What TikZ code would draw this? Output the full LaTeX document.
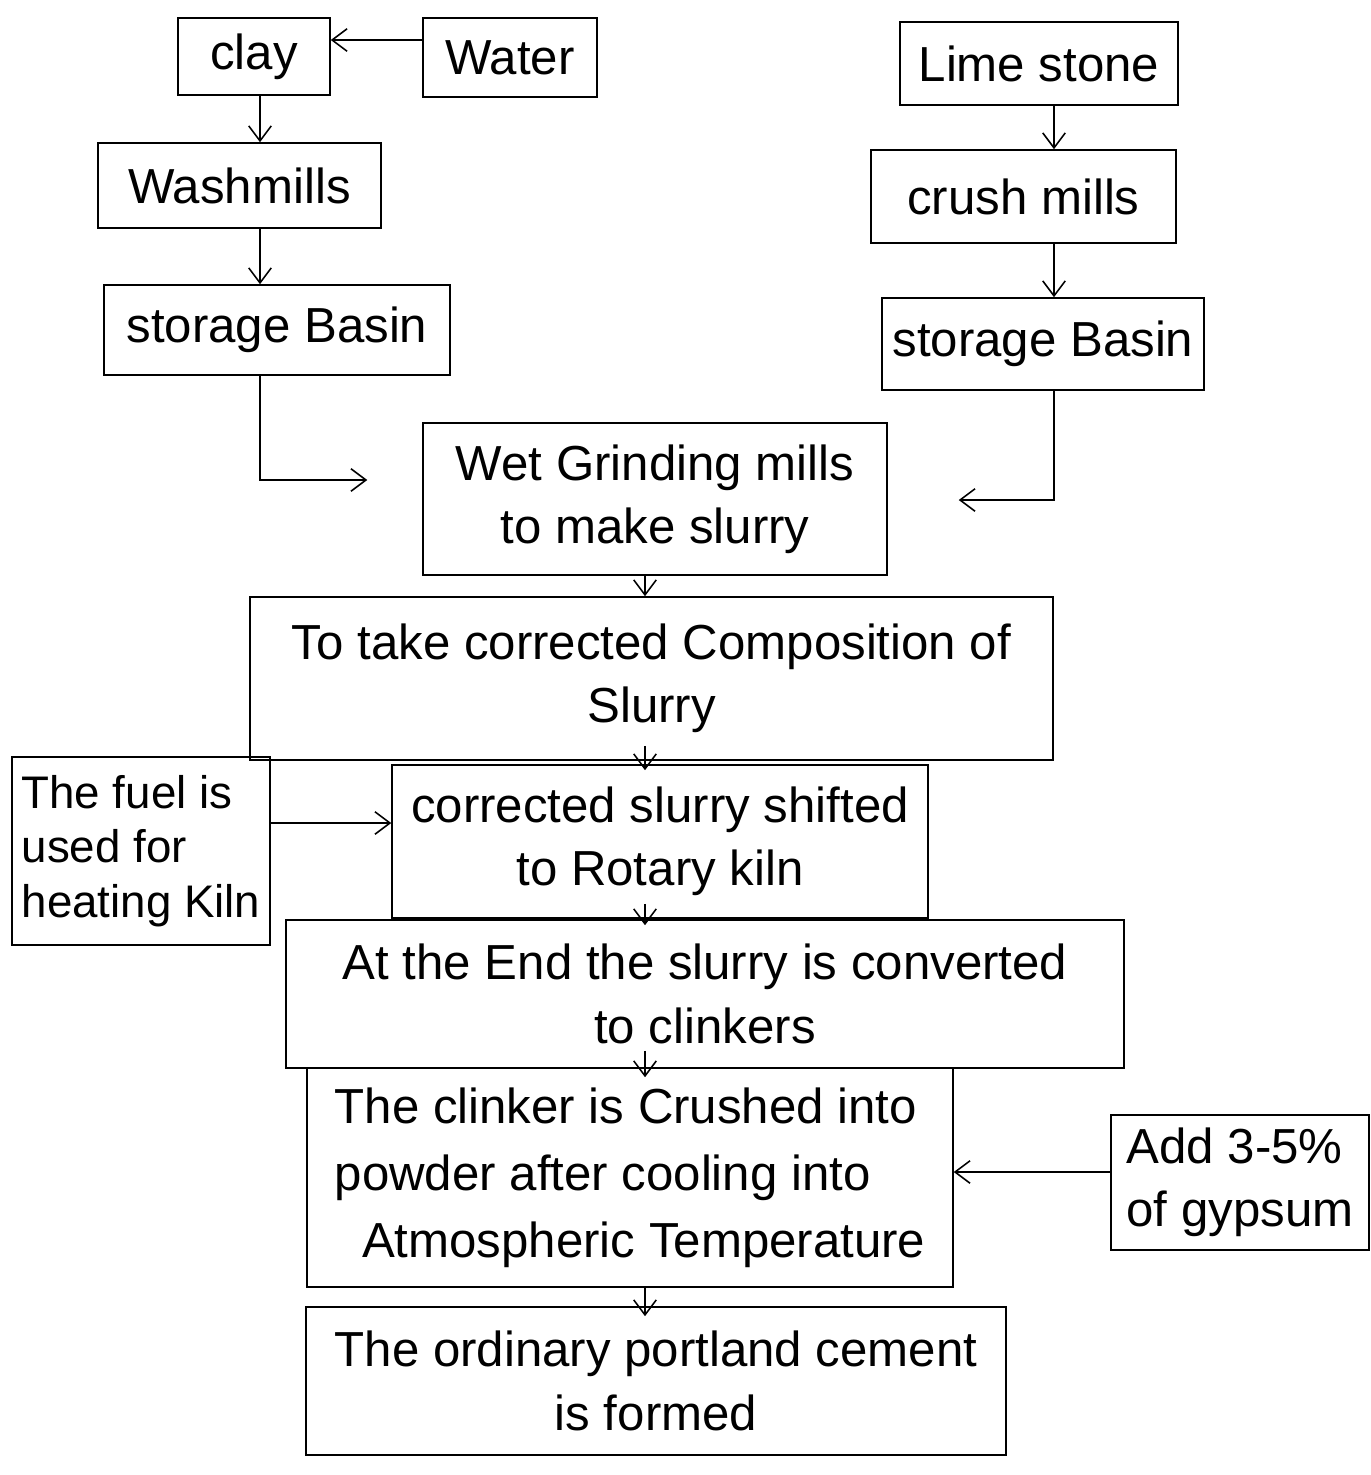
\documentclass[tikz,border=0pt]{standalone}
\usepackage{fontspec}
\setmainfont{Liberation Sans}
\usetikzlibrary{arrows.meta}
\begin{document}
\begin{tikzpicture}[x=0.02cm,y=-0.02cm,
  box/.style={draw, line width=0.9pt, inner sep=4pt, font=\fontsize{28}{36}\selectfont, align=center},
  arr/.style={line width=0.9pt, -{Straight Barb[length=0.3cm,width=0.45cm]}}]
\fill[white] (0,0) rectangle (1371,1475);
\useasboundingbox (0,0) rectangle (1371,1475);

% helper coordinates
\coordinate (xL) at (260,0);
\coordinate (xR) at (1054,0);
\coordinate (xC) at (645,0);
\coordinate (yW) at (0,40);
\coordinate (yL) at (0,480);
\coordinate (yR) at (0,500);
\coordinate (yF) at (0,823);
\coordinate (yG) at (0,1172);

% nodes
\node[box, minimum width=3.04cm, minimum height=1.54cm] (clay) at (254,56.5) {clay};
\node[box, minimum width=3.48cm, minimum height=1.58cm] (water) at (510,57.5) {Water};
\node[box, minimum width=5.56cm, minimum height=1.66cm] (lime) at (1039,63.5) {Lime stone};
\node[box, minimum width=5.66cm, minimum height=1.7cm] (wash) at (239.5,185.5) {Washmills};
\node[box, minimum width=6.1cm, minimum height=1.86cm] (crush) at (1023.5,196.5) {crush mills};
\node[box, minimum width=6.92cm, minimum height=1.8cm] (storL) at (277,330) {storage Basin};
\node[box, minimum width=6.44cm, minimum height=1.84cm] (storR) at (1043,344) {storage Basin};
\node[box, minimum width=9.28cm, minimum height=3.04cm] (wet) at (655,499)
  {Wet Grinding mills\\to make slurry};
\node[box, minimum width=16.06cm, minimum height=3.26cm] (comp) at (651.5,678.5)
  {To take corrected Composition of\\Slurry};
\node[box, minimum width=5.16cm, minimum height=3.76cm, align=left, inner sep=2pt,
  font=\fontsize{26}{31}\selectfont] (fuel) at (141,851)
  {The fuel is\\used for\\heating Kiln};
\node[box, minimum width=10.72cm, minimum height=3.06cm] (rotary) at (660,841.5)
  {corrected slurry shifted\\to Rotary kiln};
\node[box, minimum width=16.76cm, minimum height=2.96cm] (endc) at (705,994)
  {At the End the slurry is converted\\to clinkers};
\node[box, minimum width=12.92cm, minimum height=4.38cm, align=left,
  font=\fontsize{28}{38}\selectfont] (clinker) at (630,1177.5)
  {The clinker is Crushed into\\powder after cooling into\\\ \ Atmospheric Temperature};
\node[box, minimum width=5.16cm, minimum height=2.7cm, align=left] (gyp) at (1240,1182.5)
  {Add 3-5\%\\of gypsum};
\node[box, minimum width=14.0cm, minimum height=2.96cm] (ord) at (656,1381)
  {The ordinary portland cement\\is formed};

% connectors
\draw[arr] (water.west |- yW) -- (clay.east |- yW);
\draw[arr] (clay.south -| xL) -- (wash.north -| xL);
\draw[arr] (wash.south -| xL) -- (storL.north -| xL);
\draw[arr] (lime.south -| xR) -- (crush.north -| xR);
\draw[arr] (crush.south -| xR) -- (storR.north -| xR);
\draw[arr, shorten >=1.1cm] (storL.south -| xL) |- (wet.west |- yL);
\draw[arr, shorten >=1.42cm] (storR.south -| xR) |- (wet.east |- yR);
\draw[arr] (wet.south -| xC) -- (comp.north -| xC);
\draw[arr] ([yshift=0.3cm]comp.south -| xC) -- ([yshift=-0.12cm]rotary.north -| xC);
\draw[arr] ([yshift=0.3cm]rotary.south -| xC) -- ([yshift=-0.12cm]endc.north -| xC);
\draw[arr] ([yshift=0.36cm]endc.south -| xC) -- ([yshift=-0.2cm]clinker.north -| xC);
\draw[arr] (clinker.south -| xC) -- ([yshift=-0.2cm]ord.north -| xC);
\draw[arr] (fuel.east |- yF) -- (rotary.west |- yF);
\draw[arr] (gyp.west |- yG) -- (clinker.east |- yG);
\end{tikzpicture}
\end{document}
